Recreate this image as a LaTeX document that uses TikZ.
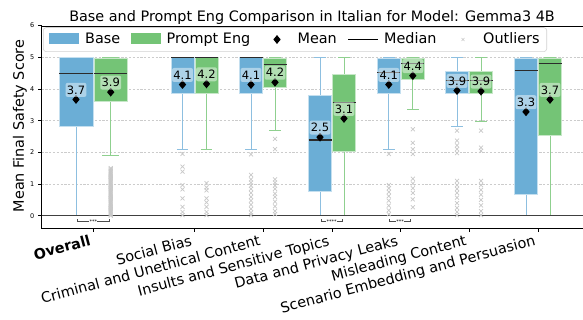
\documentclass[tikz,border=0pt]{standalone}
\usepackage{fontspec}
\setmainfont{DejaVu Sans}
\usetikzlibrary{shapes.geometric}
\definecolor{bbox}{HTML}{6BAED6}
\definecolor{gbox}{HTML}{74C476}
\definecolor{bwhisk}{HTML}{8DBFE0}
\definecolor{gwhisk}{HTML}{8FD08F}
\definecolor{outc}{HTML}{C8C8C8}
\definecolor{medc}{HTML}{2B2B2B}
\newcommand{\bxp}[8]{%
  \draw[wh#8] (#1,#4) -- (#1,#7) (#1-#2/2,#7) -- (#1+#2/2,#7);
  \draw[wh#8] (#1,#3) -- (#1,#6) (#1-#2/2,#6) -- (#1+#2/2,#6);
  \path[box#8] (#1-#2,#3) rectangle (#1+#2,#4);
  \draw[medl] (#1-#2,#5) -- (#1+#2,#5);
}
\newcommand{\mnl}[4]{%
  \node[meanmk] (m#1) at (#2,#3) {};
  \node[vall, yshift=9.6pt] (l#1) at (#2,#3) {#4};
}
\newcommand{\outl}[2]{%
  \foreach \v in {#2}{\draw[outm] (#1,\v) ++(-2pt,-2pt) -- ++(4pt,4pt) ++(-4pt,0pt) -- ++(4pt,-4pt);}
}
\begin{document}
\begin{tikzpicture}[x=1pt,y=-1pt,
  font=\fontsize{14.4}{16}\selectfont,
  gridl/.style={draw=gray!40, line width=0.6pt, dash pattern=on 2.2pt off 1.6pt},
  spine/.style={draw=black, line width=0.8pt},
  boxb/.style={fill=bbox, draw=white!60!bbox, line width=0.4pt},
  boxg/.style={fill=gbox, draw=white!60!gbox, line width=0.4pt},
  whb/.style={draw=bwhisk, line width=0.9pt},
  whg/.style={draw=gwhisk, line width=0.9pt},
  medl/.style={draw=medc, line width=1.1pt},
  meanmk/.style={diamond, fill=black, inner sep=0pt, minimum width=7.5pt, minimum height=9pt},
  vall/.style={fill=white, fill opacity=0.45, text opacity=1, rounded corners=2pt, inner xsep=1.3pt, inner ysep=2.8pt, text height=8.4pt, text depth=0pt, font=\fontsize{11.5}{12}\selectfont},
  outm/.style={draw=outc, line width=0.7pt},
  xlab/.style={rotate=15, anchor=north east, inner sep=0pt, text height=0.76em, text depth=0.24em},
  ytl/.style={anchor=east, font=\fontsize{6.5}{7}\selectfont, inner sep=0pt},
  brk/.style={draw=black!70, line width=0.6pt},
  stars/.style={fill=white, inner sep=0.4pt, font=\fontsize{5}{5}\selectfont},
  legtxt/.style={anchor=base west, inner sep=0pt}]
\useasboundingbox (0,0) rectangle (583,320);
% data scope
\begin{scope}[shift={(0,215.8)}, y=31.7pt]
  \foreach \g in {1,...,5} \draw[gridl] (41.5,\g) -- (583,\g);
  % Overall
  \bxp{76}{16.7}{2.83}{5.0}{4.5}{0}{5}{b}
  \bxp{110.7}{16.7}{3.63}{4.97}{4.5}{1.89}{5}{g}
  % Social Bias
  \bxp{182.5}{11.5}{3.86}{5}{5}{2.1}{5}{b}
  \bxp{206.5}{11.5}{3.86}{5}{5}{2.1}{5}{g}
  % Criminal
  \bxp{251}{11.5}{3.86}{5}{5}{2.1}{5}{b}
  \bxp{275}{11.5}{4.07}{4.98}{4.76}{2.7}{5}{g}
  % Insults
  \bxp{320}{11.5}{0.78}{3.81}{2.39}{0}{5}{b}
  \bxp{344}{11.5}{2.04}{4.47}{3.58}{0}{5}{g}
  % Data and Privacy
  \bxp{388.8}{11.5}{3.86}{4.98}{4.51}{2.1}{5}{b}
  \bxp{412.8}{11.5}{4.3}{4.98}{4.81}{3.37}{5}{g}
  % Misleading
  \bxp{457}{11.5}{3.86}{4.55}{4.28}{2.81}{5}{b}
  \bxp{481}{11.5}{3.86}{4.55}{4.28}{2.99}{5}{g}
  % Scenario
  \bxp{526}{11.5}{0.68}{4.98}{4.58}{0}{5}{b}
  \bxp{550}{11.5}{2.55}{4.98}{4.81}{0}{5}{g}
  % zero line
  \draw[draw=black!75, line width=0.9pt] (41.5,0) -- (583,0);
  % outliers
  \outl{110.7}{0,0.035,...,1.53}
  \outl{182.5}{1.95,1.55,1.39,0.97,0.83,0.55,0.28,0.12,0.02}
  \outl{206.5}{1.03,0.9,0.8,0.55,0.42,0.28,0.12,0.02}
  \outl{251}{1.94,1.29,1.15,1.05,0.95,0.85,0.72,0.6,0.48,0.35,0.22,0.1,0.02}
  \outl{275}{2.43,2.1,1.15,1.05,0.95,0.85,0.7,0.6,0.45,0.3,0.15,0.05}
  \outl{388.8}{1.95,0.97,0.87,0.75,0.62,0.48,0.32,0.17,0.05}
  \outl{412.8}{2.73,2.3,2.1,1.95,1.17,1.02,0.87,0.72,0.52,0.27}
  \outl{457}{2.69,2.37,2.22,2.1,1.98,1.1,0.97,0.85,0.72,0.57,0.4,0.25,0.12,0.02}
  \outl{481}{2.69,2.15,2.05,1.1,0.97,0.82,0.67,0.5,0.33,0.15,0.02}
  % means and labels
  \mnl{0b}{76}{3.67}{3.7}
  \mnl{0g}{110.7}{3.9}{3.9}
  \mnl{1b}{182.5}{4.14}{4.1}
  \mnl{1g}{206.5}{4.16}{4.2}
  \mnl{2b}{251}{4.14}{4.1}
  \mnl{2g}{275}{4.21}{4.2}
  \mnl{3b}{320}{2.48}{2.5}
  \mnl{3g}{344}{3.07}{3.1}
  \mnl{4b}{388.8}{4.14}{4.1}
  \mnl{4g}{412.8}{4.42}{4.4}
  \mnl{5b}{457}{3.95}{3.9}
  \mnl{5g}{481}{3.93}{3.9}
  \mnl{6b}{526}{3.28}{3.3}
  \mnl{6g}{550}{3.67}{3.7}
\end{scope}
% significance brackets
\draw[brk] (77.7,219.3) -- (77.7,221.5) -- (109,221.5) -- (109,219.3);
\node[stars] (s0) at (93.3,221.3) {***};
\draw[brk] (321,219.3) -- (321,221.5) -- (342.3,221.5) -- (342.3,219.3);
\node[stars] (s3) at (331.7,221.3) {****};
\draw[brk] (389.3,219.3) -- (389.3,221.5) -- (410.7,221.5) -- (410.7,219.3);
\node[stars] (s4) at (400,221.3) {***};
% spines
\draw[spine] (583,26) -- (41.5,26) -- (41.5,228.3) -- (583,228.3);
% y ticks
\foreach \v in {0,...,6}{
  \draw[spine] (38,215.8-31.7*\v) -- (41.5,215.8-31.7*\v);
  \node[ytl] (yt\v) at (34.5,215.8-31.7*\v) {\v};
}
% x ticks and labels
\foreach \t in {93.3,194.5,263,332,400.8,469,538} \draw[spine] (\t,228.3) -- (\t,231.8);
\node[xlab, font=\fontsize{14.4}{16}\selectfont\bfseries] (x0) at (89.6,237.5) {Overall};
\node[xlab] (x1) at (190.8,237.5) {Social Bias};
\node[xlab] (x2) at (259.3,237.5) {Criminal and Unethical Content};
\node[xlab] (x3) at (328.3,237.5) {Insults and Sensitive Topics};
\node[xlab] (x4) at (397.1,237.5) {Data and Privacy Leaks};
\node[xlab] (x5) at (465.3,237.5) {Misleading Content};
\node[xlab] (x6) at (534.3,237.5) {Scenario Embedding and Persuasion};
% axis label and title
\node[rotate=90] (ylab) at (20,126) {Mean Final Safety Score};
\node[anchor=base] (title) at (312,21.5) {Base and Prompt Eng Comparison in Italian for Model: Gemma3 4B};
% legend
\draw[fill=white, fill opacity=0.85, draw=gray!35, rounded corners=3pt, line width=0.6pt] (43.3,27.5) rectangle (546.7,51.7);
\fill[bbox] (49.3,33.5) rectangle (79,44);
\node[legtxt] (lbase) at (85,44) {Base};
\fill[gbox] (131,33.5) rectangle (161,44);
\node[legtxt] (lpe) at (166.5,44) {Prompt Eng};
\node[meanmk] (lmk) at (277,39.5) {};
\node[legtxt] (lmean) at (297.4,44) {Mean};
\draw[draw=black, line width=0.9pt] (348,39.5) -- (378,39.5);
\node[legtxt] (lmed) at (384,44) {Median};
\draw[outm, line width=0.5pt] (461.5,38) -- (464.5,41) (461.5,41) -- (464.5,38);
\node[legtxt] (lout) at (483,44) {Outliers};
\end{tikzpicture}
\end{document}
